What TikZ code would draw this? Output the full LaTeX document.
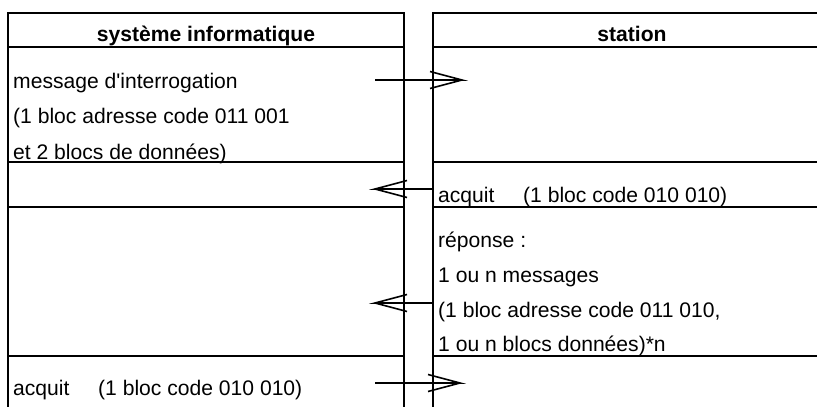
\documentclass[tikz,border=0pt]{standalone}
\usepackage{fontspec}
\setmainfont{Liberation Sans}[Ligatures=TeXOff]
\begin{document}
\begin{tikzpicture}[x=1pt,y=-1pt,
  frame/.style={line width=2pt,line cap=rect},
  msgR/.style={line width=1.6pt,line join=miter,
    to path={-- (\tikztotarget) -- ++(-32,-8.5) (\tikztotarget) -- ++(-32,8.5)}},
  msgL/.style={line width=1.6pt,line join=miter,
    to path={-- (\tikztotarget) -- ++(32,-8.5) (\tikztotarget) -- ++(32,8.5)}},
  txt/.style={anchor=base west,inner sep=0pt,font=\fontsize{21.1}{24}\selectfont},
  head/.style={anchor=base,inner sep=0pt,font=\fontsize{21.1}{24}\selectfont\bfseries}]
\useasboundingbox (0,0) rectangle (817,407);
% left column
\draw[frame] (8,409) -- (8,13) -- (404,13) -- (404,409);
\foreach \y in {47,162,207,356} \draw[frame] (8,\y) -- (404,\y);
% right column
\draw[frame] (433,409) -- (433,13) -- (830,13) -- (830,409);
\foreach \y in {47,162,207,356} \draw[frame] (433,\y) -- (830,\y);
% headers
\node[head] (h1) at (206,41.5) {système informatique};
\node[head] (h2) at (632,41.5) {station};
% left texts
\node[txt] (t1) at (13,88) {message d'interrogation};
\node[txt] (t2) at (13,123.5) {(1 bloc adresse code 011 001};
\node[txt] (t3) at (13,159) {et 2 blocs de données)};
\node[txt] (t4) at (13,395) {\makebox[85pt][l]{acquit}(1 bloc code 010 010)};
% right texts
\node[txt] (r1) at (438,202) {\makebox[85pt][l]{acquit}(1 bloc code 010 010)};
\node[txt] (r2) at (438,247) {réponse :};
\node[txt] (r3) at (438,282) {1 ou n messages};
\node[txt] (r4) at (438,317) {(1 bloc adresse code 011 010,};
\node[txt] (r5) at (438,351) {1 ou n blocs données)*n};
% arrows
\coordinate (a1s) at (375,80);  \coordinate (a1e) at (462,80);
\coordinate (a2s) at (433,189); \coordinate (a2e) at (375,189);
\coordinate (a3s) at (433,303); \coordinate (a3e) at (375,303);
\coordinate (a4s) at (375,383); \coordinate (a4e) at (460,383);
\draw[msgR] (a1s) to (a1e);
\draw[msgL] (a2s) to (a2e);
\draw[msgL] (a3s) to (a3e);
\draw[msgR] (a4s) to (a4e);
\end{tikzpicture}
\end{document}
